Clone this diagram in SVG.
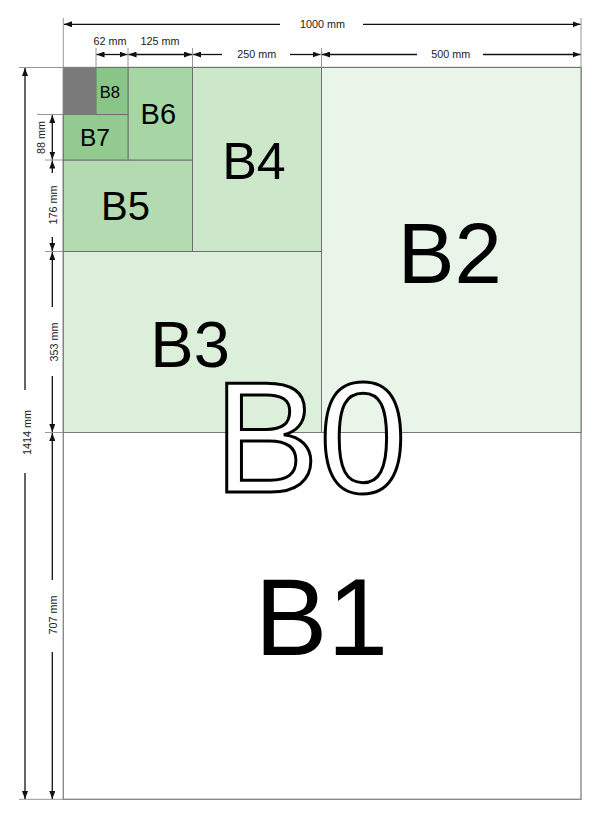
<svg xmlns="http://www.w3.org/2000/svg" width="600" height="819" viewBox="0 0 600 819">
<defs>
<marker id="ah" markerUnits="userSpaceOnUse" markerWidth="8" markerHeight="6" refX="8" refY="3" orient="auto-start-reverse"><path d="M0,0 L8,3 L0,6 z" fill="#111"/></marker>
</defs>
<style>
.dim{stroke:#111;stroke-width:1.3;fill:none}
.ext{stroke:#8a8a8a;stroke-width:0.9}
.dt{font-family:"Liberation Sans",Arial,sans-serif;font-size:10.8px;fill:#222}
.lbl{font-family:"Liberation Sans",Arial,sans-serif;fill:#000}
.sheet{stroke:#6b6b6b;stroke-width:0.9}
</style>
<rect width="600" height="819" fill="#fff"/>
<g id="B1"><rect x="63.3" y="67.5" width="517.7" height="731.8" fill="#fff" stroke="#8a8a8a" stroke-width="1.4"/>
<text class="lbl" x="254.7" y="655" font-size="109">B1</text></g>
<g id="B2"><rect class="sheet" x="321.5" y="67.5" width="259.5" height="365" fill="#e9f5e8"/>
<text class="lbl" x="397.8" y="282.7" font-size="85">B2</text></g>
<g id="B3"><rect class="sheet" x="63.3" y="251.5" width="258.2" height="181" fill="#dbefda"/>
<text class="lbl" x="150.3" y="366.7" font-size="65">B3</text></g>
<g id="B4"><rect class="sheet" x="192.5" y="67.5" width="129" height="184" fill="#cde7cb"/>
<text class="lbl" x="222.2" y="179.3" font-size="52">B4</text></g>
<g id="B5"><rect class="sheet" x="63.3" y="160" width="129.2" height="91.5" fill="#b3dab1"/>
<text class="lbl" x="101" y="220" font-size="40">B5</text></g>
<g id="B6"><rect class="sheet" x="128" y="67.5" width="64.5" height="92.5" fill="#a7d6a5"/>
<text class="lbl" x="140.6" y="124" font-size="29">B6</text></g>
<g id="B7"><rect class="sheet" x="63.3" y="114.5" width="64.7" height="45.5" fill="#92ca90"/>
<text class="lbl" x="79.9" y="146" font-size="24.5">B7</text></g>
<g id="B8"><rect class="sheet" x="96" y="67.5" width="32" height="47" fill="#89c587"/>
<text class="lbl" x="99.8" y="97.7" font-size="16.5">B8</text></g>
<g id="B9-B10"><rect x="63.3" y="67.5" width="32.7" height="47" fill="#7a7a7a"/></g>
<g id="B0"><text x="213.7" y="491.8" font-family="'Liberation Sans',Arial,sans-serif" font-size="158" fill="#fff" stroke="#000" stroke-width="3">B0</text></g>
<g id="connectors">
<line class="ext" x1="63.3" y1="18" x2="63.3" y2="67.5"/>
<line class="ext" x1="581" y1="18" x2="581" y2="67.5"/>
<line class="ext" x1="96" y1="48" x2="96" y2="67.5"/>
<line class="ext" x1="128" y1="48" x2="128" y2="67.5"/>
<line class="ext" x1="192.5" y1="48" x2="192.5" y2="67.5"/>
<line class="ext" x1="321.5" y1="48" x2="321.5" y2="67.5"/>
<line class="ext" x1="19" y1="67.5" x2="63.3" y2="67.5"/>
<line class="ext" x1="37" y1="114.5" x2="63.3" y2="114.5"/>
<line class="ext" x1="45" y1="160" x2="63.3" y2="160"/>
<line class="ext" x1="45" y1="251.5" x2="63.3" y2="251.5"/>
<line class="ext" x1="45" y1="432.5" x2="63.3" y2="432.5"/>
<line class="ext" x1="19" y1="799.3" x2="63.3" y2="799.3"/>
<line class="dim" x1="280" y1="24.3" x2="64" y2="24.3" marker-end="url(#ah)"/>
<line class="dim" x1="363" y1="24.3" x2="580.5" y2="24.3" marker-end="url(#ah)"/>
<line class="dim" x1="96.5" y1="54.5" x2="127.5" y2="54.5" marker-start="url(#ah)" marker-end="url(#ah)"/>
<line class="dim" x1="128.5" y1="54.5" x2="192" y2="54.5" marker-start="url(#ah)" marker-end="url(#ah)"/>
<line class="dim" x1="222" y1="54.5" x2="193" y2="54.5" marker-end="url(#ah)"/>
<line class="dim" x1="290" y1="54.5" x2="320.5" y2="54.5" marker-end="url(#ah)"/>
<line class="dim" x1="417" y1="54.5" x2="322" y2="54.5" marker-end="url(#ah)"/>
<line class="dim" x1="483" y1="54.5" x2="580.5" y2="54.5" marker-end="url(#ah)"/>
<line class="dim" x1="25" y1="390" x2="25" y2="68" marker-end="url(#ah)"/>
<line class="dim" x1="25" y1="473" x2="25" y2="799" marker-end="url(#ah)"/>
<line class="dim" x1="52.3" y1="115" x2="52.3" y2="159.5" marker-start="url(#ah)" marker-end="url(#ah)"/>
<line class="dim" x1="52.3" y1="173" x2="52.3" y2="160.5" marker-end="url(#ah)"/>
<line class="dim" x1="52.3" y1="237" x2="52.3" y2="251" marker-end="url(#ah)"/>
<line class="dim" x1="52.3" y1="307" x2="52.3" y2="252" marker-end="url(#ah)"/>
<line class="dim" x1="52.3" y1="376" x2="52.3" y2="432" marker-end="url(#ah)"/>
<line class="dim" x1="52.3" y1="580" x2="52.3" y2="433" marker-end="url(#ah)"/>
<line class="dim" x1="52.3" y1="652" x2="52.3" y2="799" marker-end="url(#ah)"/>
</g>
<g id="dimension-labels" class="dt" text-anchor="middle">
<text x="322.5" y="28.3">1000 mm</text>
<text x="110" y="45">62 mm</text>
<text x="160" y="45">125 mm</text>
<text x="256.7" y="58.3">250 mm</text>
<text x="450.7" y="58.3">500 mm</text>
<text transform="translate(31.3,432.5) rotate(-90)">1414 mm</text>
<text transform="translate(44.6,137.5) rotate(-90)">88 mm</text>
<text transform="translate(56.8,205) rotate(-90)">176 mm</text>
<text transform="translate(57.5,342) rotate(-90)">353 mm</text>
<text transform="translate(56.8,615) rotate(-90)">707 mm</text>
</g>
</svg>
